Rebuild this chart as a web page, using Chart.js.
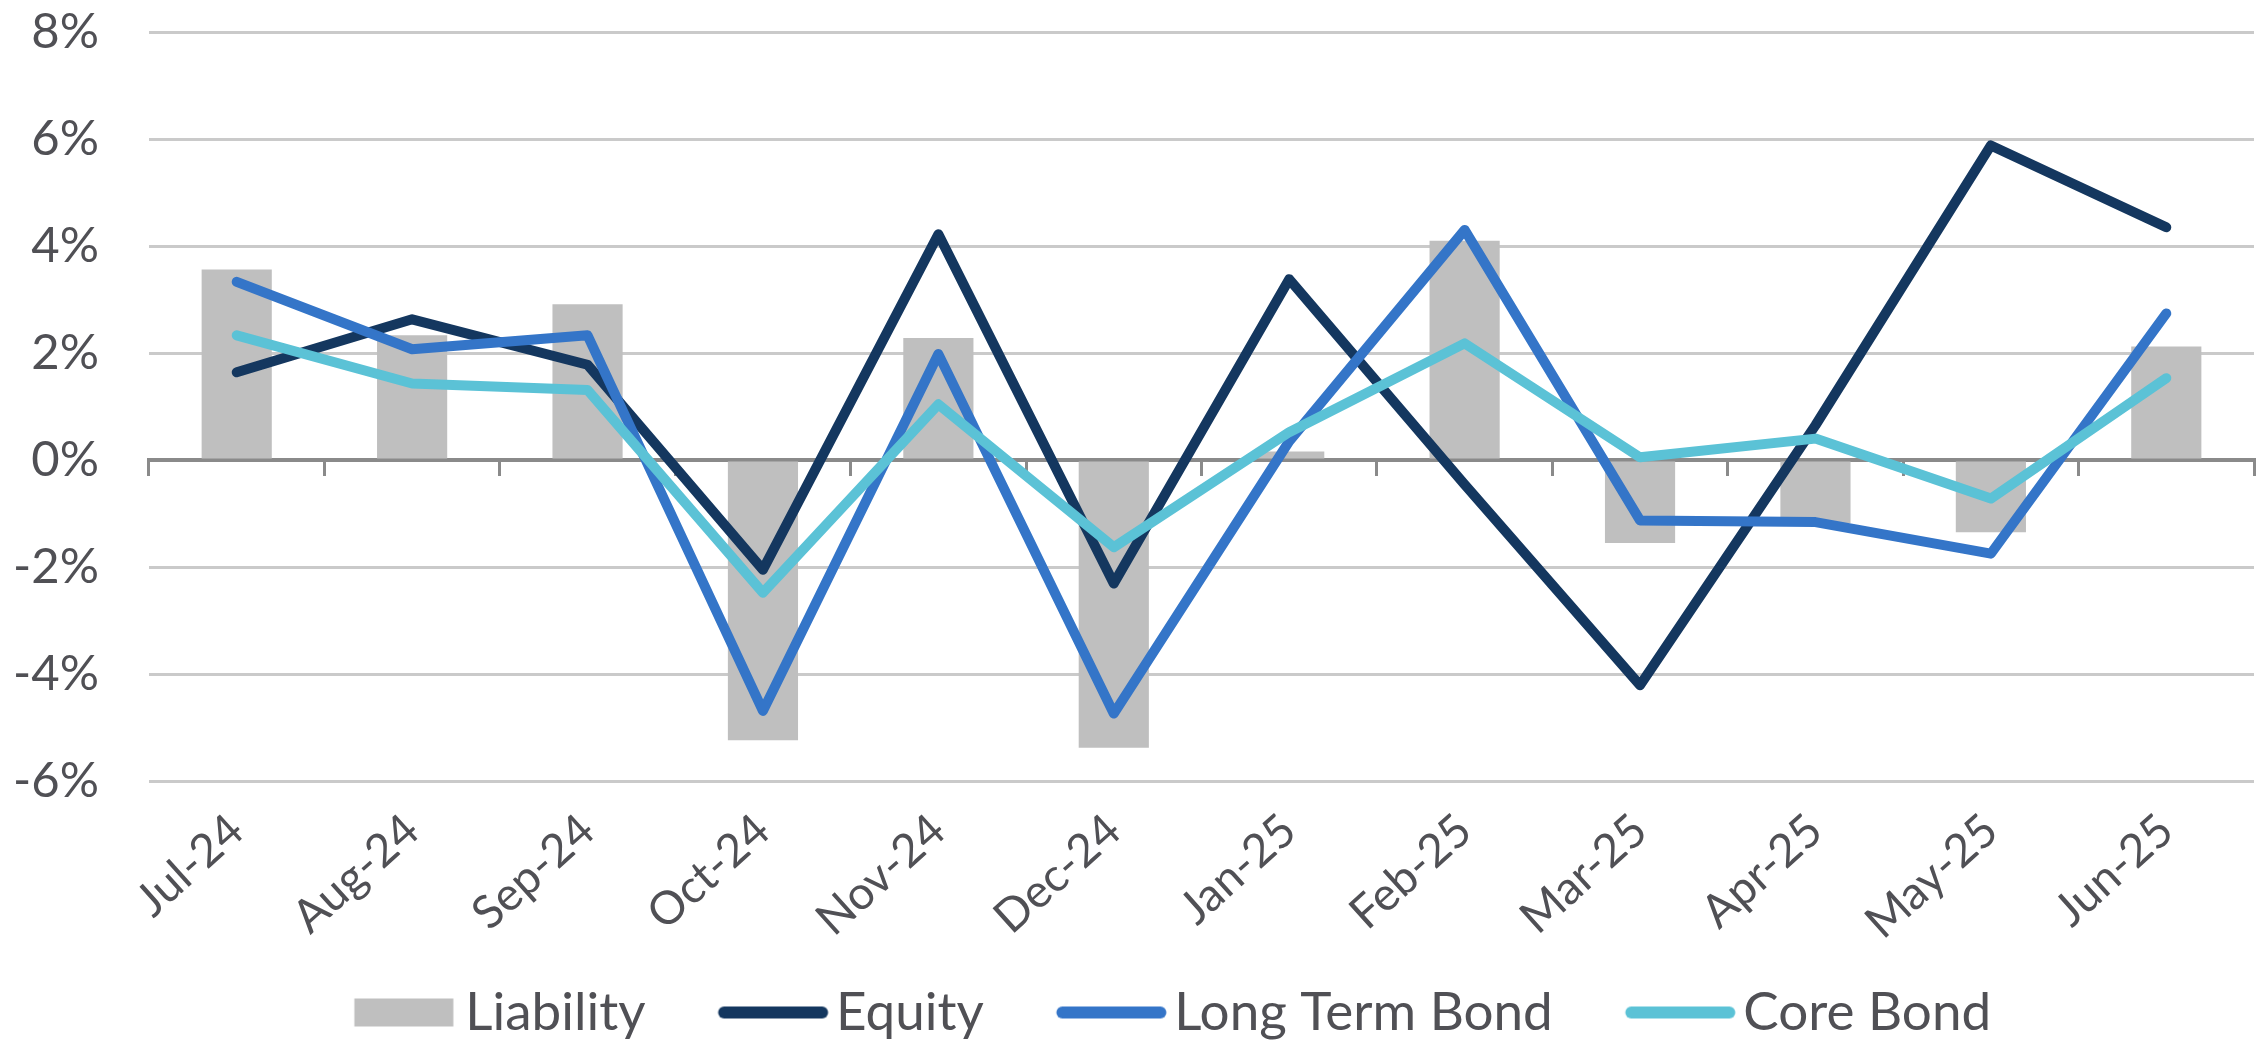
<!DOCTYPE html>
<html>
<head>
<meta charset="utf-8">
<script src="https://cdn.jsdelivr.net/npm/chart.js@4.4.1/dist/chart.umd.min.js"></script>
<style>
  html, body { margin: 0; padding: 0; background: #ffffff; }
  #wrap { width: 2266px; height: 1046px; }
</style>
</head>
<body>
<div id="wrap"><canvas id="c" width="2266" height="1046"></canvas></div>
<script>
// ---- data (monthly returns, %) ----
const categories = ['Jul-24','Aug-24','Sep-24','Oct-24','Nov-24','Dec-24','Jan-25','Feb-25','Mar-25','Apr-25','May-25','Jun-25'];
const liability    = [3.56, 2.33, 2.91, -5.24, 2.28, -5.38, 0.16, 4.10, -1.55, -1.18, -1.35, 2.12];
const equity       = [1.64, 2.63, 1.78, -2.05, 4.22, -2.31, 3.38, -0.46, -4.21, 0.65, 5.88, 4.35];
const longTermBond = [3.33, 2.07, 2.33, -4.69, 1.98, -4.74, 0.35, 4.30, -1.13, -1.16, -1.75, 2.74];
const coreBond     = [2.33, 1.43, 1.31, -2.48, 1.04, -1.63, 0.52, 2.18, 0.05, 0.40, -0.72, 1.53];
const yMin = -6, yMax = 8, yStep = 2;

const FONT = 'Lato, "Open Sans", "DejaVu Sans", sans-serif';
const TEXT = '#505055';
const LEGEND_FONT = 53;
const LEGEND_BOX = 100;   // space reserved for each legend glyph

// legend glyph drawn into a small canvas, shifted right so it sits close to its text
function legendGlyph(kind, color) {
  const W = LEGEND_BOX * 2, H = 40;
  const cv = document.createElement('canvas');
  cv.width = W; cv.height = H;
  const g = cv.getContext('2d');
  const start = LEGEND_BOX / 2;              // image x that lands on the item's left edge
  if (kind === 'rect') {
    const len = 99, s = LEGEND_BOX + LEGEND_FONT / 2 - len - 12;
    g.fillStyle = color;
    g.fillRect(start + s, H / 2 - 14, len, 28);
  } else {
    const len = 110, s = LEGEND_BOX + LEGEND_FONT / 2 - len - 8;
    g.strokeStyle = color; g.lineWidth = 12; g.lineCap = 'round';
    g.beginPath();
    g.moveTo(start + s + 6, H / 2);
    g.lineTo(start + s + len - 6, H / 2);
    g.stroke();
  }
  return cv;
}

const datasets = [
  { type: 'bar', label: 'Liability', data: liability, backgroundColor: '#bfbfbf',
    borderWidth: 0, barPercentage: 0.4, categoryPercentage: 1.0, order: 4 },
  { type: 'line', label: 'Equity', data: equity, borderColor: '#14375f', backgroundColor: '#14375f',
    borderWidth: 10, pointRadius: 0, pointHoverRadius: 0, tension: 0, borderCapStyle: 'round',
    borderJoinStyle: 'round', fill: false, order: 3 },
  { type: 'line', label: 'Long Term Bond', data: longTermBond, borderColor: '#3475c8', backgroundColor: '#3475c8',
    borderWidth: 10, pointRadius: 0, pointHoverRadius: 0, tension: 0, borderCapStyle: 'round',
    borderJoinStyle: 'round', fill: false, order: 2 },
  { type: 'line', label: 'Core Bond', data: coreBond, borderColor: '#5bc2d6', backgroundColor: '#5bc2d6',
    borderWidth: 10, pointRadius: 0, pointHoverRadius: 0, tension: 0, borderCapStyle: 'round',
    borderJoinStyle: 'round', fill: false, order: 1 }
];

// let tick labels draw outside their (narrowed) scale boxes without being clipped
const unclipLabels = {
  id: 'unclipLabels',
  afterLayout(chart) {
    chart.scales.x.bottom = chart.height;
    chart.scales.y.left = 0;
  }
};

new Chart(document.getElementById('c'), {
  data: { labels: categories, datasets: datasets },
  plugins: [unclipLabels],
  options: {
    responsive: false,
    animation: false,
    devicePixelRatio: 1,
    layout: { padding: { left: 64, right: 0, top: 32, bottom: -3 } },
    plugins: {
      tooltip: { enabled: false },
      legend: {
        position: 'bottom',
        labels: {
          usePointStyle: true,
          pointStyleWidth: LEGEND_BOX,
          boxHeight: 28,
          padding: 64,
          color: TEXT,
          font: { family: FONT, size: LEGEND_FONT },
          generateLabels(chart) {
            const items = Chart.defaults.plugins.legend.labels.generateLabels(chart);
            items.forEach(it => {
              const ds = chart.data.datasets[it.datasetIndex];
              if (ds.type === 'bar') {
                it.pointStyle = legendGlyph('rect', ds.backgroundColor);
              } else {
                it.pointStyle = legendGlyph('line', ds.borderColor);
              }
              it.lineWidth = 0;
            });
            return items.sort((a, b) => a.datasetIndex - b.datasetIndex);
          }
        }
      }
    },
    scales: {
      x: {
        type: 'category',
        position: 'bottom',
        offset: true,
        grid: { display: false },
        border: { display: false },
        ticks: {
          color: TEXT, font: { family: FONT, size: 46 },
          maxRotation: 42, minRotation: 42, padding: 14, autoSkip: false
        },
        afterFit(s) { s.height = 141; s.paddingLeft = 0; s.paddingRight = 12; }
      },
      x2: {
        type: 'category',
        axis: 'x',
        labels: categories,
        position: { y: 0 },
        offset: true,
        grid: { offset: true, drawOnChartArea: false, drawTicks: true, tickLength: 14,
                color: '#8a8a8a', lineWidth: 3 },
        border: { display: true, color: '#8a8a8a', width: 4 },
        ticks: { display: false }
      },
      y: {
        type: 'linear',
        min: yMin, max: yMax,
        ticks: {
          stepSize: yStep, color: TEXT, font: { family: FONT, size: 49 }, padding: 50,
          callback: v => v + '%'
        },
        grid: {
          drawTicks: false, lineWidth: 3,
          color: ctx => (ctx.tick && ctx.tick.value === 0) ? 'rgba(0,0,0,0)' : '#cacaca'
        },
        border: { display: false },
        afterFit(s) { s.width = 85; s.paddingTop = 0; s.paddingBottom = 0; }
      }
    }
  }
});
</script>
</body>
</html>
